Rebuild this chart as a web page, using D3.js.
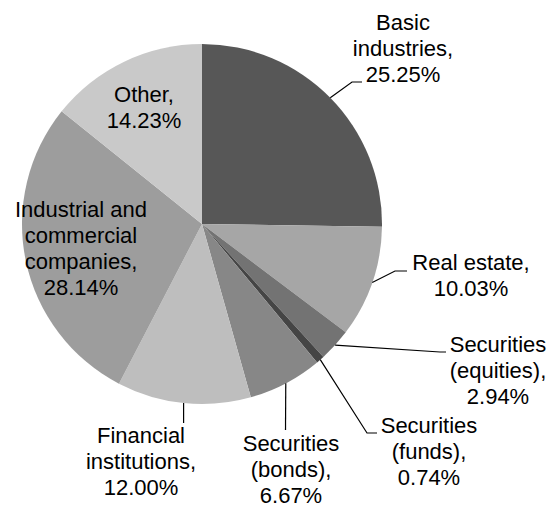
<!DOCTYPE html>
<html>
<head>
<meta charset="utf-8">
<script src="https://cdn.jsdelivr.net/npm/d3@7"></script>
<style>
  html, body { margin: 0; padding: 0; background: #fff; }
  svg { display: block; }
  text { font-family: "Liberation Sans", Arial, sans-serif; font-size: 22px; fill: #000; }
</style>
</head>
<body>
<svg id="chart" width="549" height="508"></svg>
<script>
// Portfolio breakdown by sector, clockwise from 12 o'clock
const categories = [
  "Basic industries",
  "Real estate",
  "Securities (equities)",
  "Securities (funds)",
  "Securities (bonds)",
  "Financial institutions",
  "Industrial and commercial companies",
  "Other"
];
const shares = [25.25, 10.03, 2.94, 0.74, 6.67, 12.00, 28.14, 14.23];
const sliceColors = ["#575757", "#a6a6a6", "#737373", "#454545", "#878787", "#bebebe", "#9d9d9d", "#c9c9c9"];

// How each label is broken into lines (the value line is appended)
const labelLines = [
  ["Basic", "industries,"],
  ["Real estate,"],
  ["Securities", "(equities),"],
  ["Securities", "(funds),"],
  ["Securities", "(bonds),"],
  ["Financial", "institutions,"],
  ["Industrial and", "commercial", "companies,"],
  ["Other,"]
];

// Label placement: text centre x, first baseline y, and leader elbow/end points
const labelLayout = [
  { x: 403, y: 30,  elbow: [352, 82],  end: [362, 82] },
  { x: 471, y: 270, elbow: [395, 271], end: [407, 271] },
  { x: 498, y: 352, elbow: [440, 352], end: [446, 352] },
  { x: 429, y: 433, elbow: [367, 433], end: [377, 433] },
  { x: 291, y: 450.5, elbow: null,      end: [285.5, 430] },
  { x: 141, y: 443, elbow: null,        end: [183.6, 423] },
  { x: 81,  y: 217, elbow: null,        end: null },
  { x: 144, y: 102, elbow: null,        end: null }
];

const lineHeight = 26.1;
const cx = 202, cy = 224, radius = 180;

const svg = d3.select("#chart");
const g = svg.append("g").attr("transform", `translate(${cx},${cy})`);

const data = categories.map((name, i) => ({ name, value: shares[i], color: sliceColors[i], i }));

const pie = d3.pie().value(d => d.value).sort(null);
const arc = d3.arc().innerRadius(0).outerRadius(radius);
const arcs = pie(data);

g.selectAll("path.slice")
  .data(arcs)
  .join("path")
  .attr("class", "slice")
  .attr("d", arc)
  .attr("fill", d => d.data.color);

// Leader lines start on the outer edge at each slice's mid-angle
const edgePoint = d => {
  const a = (d.startAngle + d.endAngle) / 2;
  return [cx + radius * Math.sin(a), cy - radius * Math.cos(a)];
};

svg.selectAll("path.leader")
  .data(arcs.filter(d => labelLayout[d.data.i].end))
  .join("path")
  .attr("class", "leader")
  .attr("fill", "none")
  .attr("stroke", "#000")
  .attr("stroke-width", 1.2)
  .attr("d", d => {
    const L = labelLayout[d.data.i];
    const pts = [edgePoint(d)];
    if (L.elbow) pts.push(L.elbow);
    pts.push(L.end);
    return d3.line()(pts);
  });

const labels = svg.selectAll("text.label")
  .data(arcs)
  .join("text")
  .attr("class", "label")
  .attr("text-anchor", "middle");

labels.each(function(d) {
  const L = labelLayout[d.data.i];
  const lines = labelLines[d.data.i].concat([d3.format(".2f")(d.data.value) + "%"]);
  d3.select(this).selectAll("tspan")
    .data(lines)
    .join("tspan")
    .attr("x", L.x)
    .attr("y", (s, k) => L.y + k * lineHeight)
    .text(s => s);
});
</script>
</body>
</html>
